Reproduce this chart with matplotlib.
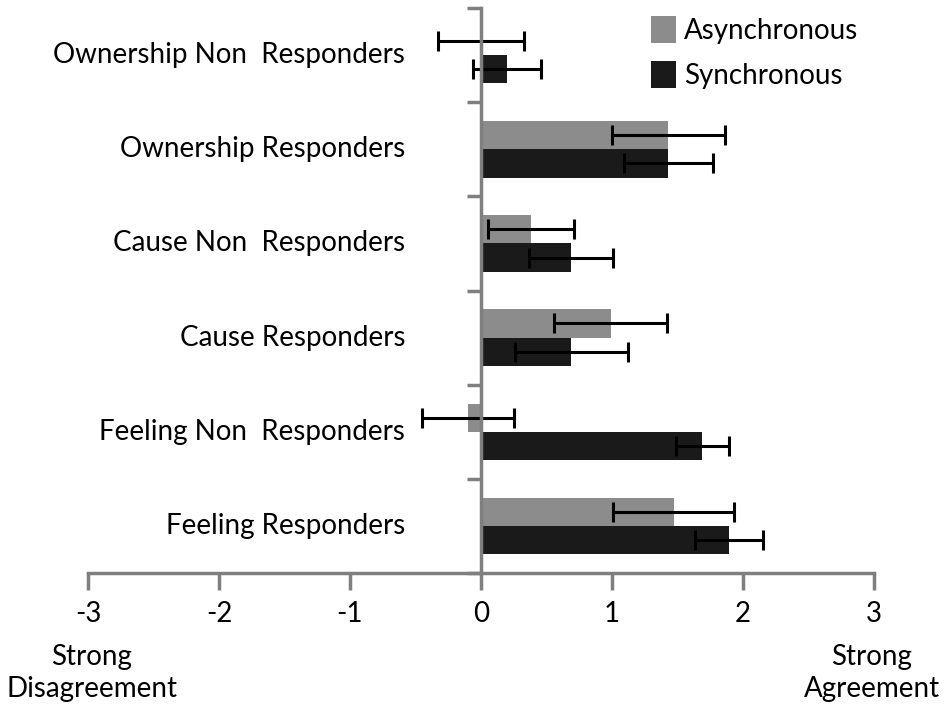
import matplotlib.pyplot as plt
import numpy as np

plt.rcParams['font.family'] = ['Lato', 'DejaVu Sans']

# 上から順のカテゴリ
categories = ["Ownership Non  Responders", "Ownership Responders",
              "Cause Non  Responders", "Cause Responders",
              "Feeling Non  Responders", "Feeling Responders"]
async_vals = [0.0, 1.43, 0.38, 0.99, -0.10, 1.47]
async_err = [0.33, 0.43, 0.33, 0.43, 0.35, 0.46]
sync_vals = [0.20, 1.43, 0.69, 0.69, 1.69, 1.89]
sync_err = [0.26, 0.34, 0.32, 0.43, 0.20, 0.26]
x_ticks = [-3, -2, -1, 0, 1, 2, 3]

GRAY = "#8c8c8c"
DARK = "#1a1a1a"
AXC = "#7f7f7f"
FS = 20

fig = plt.figure(figsize=(9.45, 7.15), dpi=100)
ax = fig.add_axes([88 / 945, 1 - 573 / 715, (874 - 88) / 945, (573 - 8) / 715])

n = len(categories)
pos = np.arange(n)[::-1]  # 一番上が先頭
h = 0.3
ax.barh(pos + h / 2, async_vals, height=h, color=GRAY, label="Asynchronous",
        xerr=async_err, error_kw=dict(ecolor="black", elinewidth=2.2, capsize=7, capthick=2.2))
ax.barh(pos - h / 2, sync_vals, height=h, color=DARK, label="Synchronous",
        xerr=sync_err, error_kw=dict(ecolor="black", elinewidth=2.2, capsize=7, capthick=2.2))

ax.set_xlim(-3, 3)
ax.set_ylim(-0.5, n - 0.5)

# 軸まわり
for s in ["top", "right"]:
    ax.spines[s].set_visible(False)
ax.spines["left"].set_position(("data", 0))
ax.spines["left"].set_color(AXC)
ax.spines["left"].set_linewidth(2.5)
ax.spines["bottom"].set_color(AXC)
ax.spines["bottom"].set_linewidth(2.5)

ax.set_xticks(x_ticks)
ax.set_xticklabels([str(t) for t in x_ticks])
ax.tick_params(axis="x", length=12, width=2.5, color=AXC, labelsize=FS, pad=8)

# カテゴリ境界に目盛り、ラベルは中心
ax.set_yticks(pos)
ax.set_yticklabels([])
ax.set_yticks(np.arange(n + 1) - 0.5, minor=True)
ax.tick_params(axis="y", which="major", length=0)
ax.tick_params(axis="y", which="minor", length=10, width=2.5, color=AXC)
for p, c in zip(pos, categories):
    ax.text(-0.58, p, c, ha="right", va="center", fontsize=FS)

fig.text(92 / 945, 1 - 673 / 715, "Strong\nDisagreement", ha="center", va="center",
         fontsize=FS, linespacing=1.3)
fig.text(872 / 945, 1 - 673 / 715, "Strong\nAgreement", ha="center", va="center",
         fontsize=FS, linespacing=1.3)

ax.legend(loc="upper left", bbox_to_anchor=(626 / 945, 1.012), bbox_transform=fig.transFigure,
          frameon=False, fontsize=FS, handlelength=0.9, handleheight=1.1,
          handletextpad=0.3, labelspacing=0.6)

fig.savefig("out.png", dpi=100)
